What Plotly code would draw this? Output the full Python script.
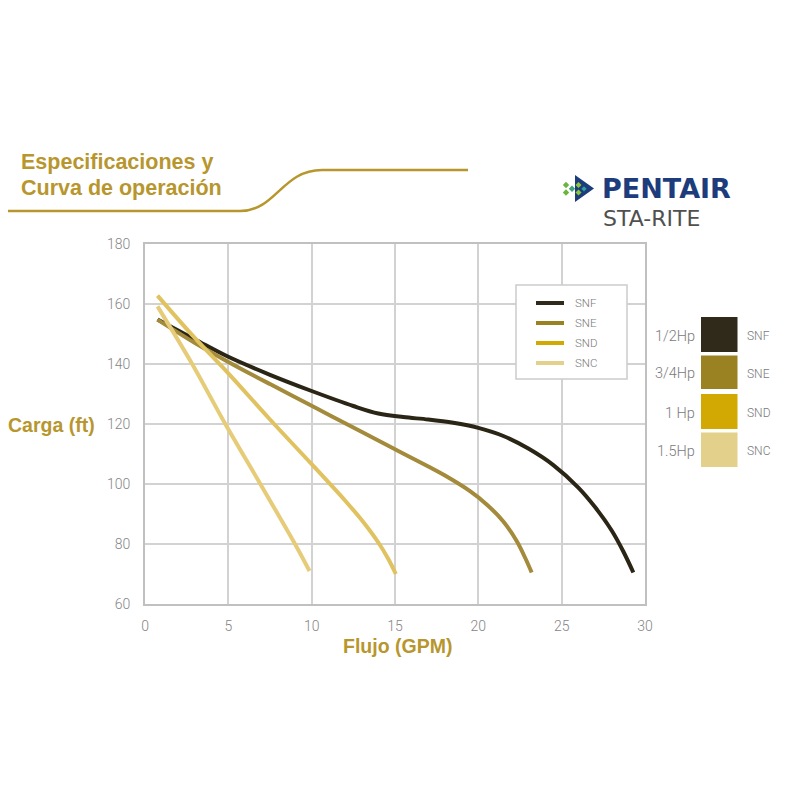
import plotly.graph_objects as go

# ---- data ----
flow_snf = [0.75, 3.0, 5.0, 7.5, 10.0, 12.5, 14.0, 15.5, 17.0, 18.5, 20.0, 21.5, 23.0, 24.5, 26.0, 27.0, 28.0, 28.7, 29.3]
head_snf = [154.8, 148.2, 142.4, 136.4, 131.0, 126.0, 123.5, 122.3, 121.5, 120.4, 118.7, 116.0, 111.8, 106.3, 98.8, 92.3, 84.5, 77.5, 70.5]

flow_sne = [0.75, 3.0, 5.0, 7.5, 10.0, 12.5, 15.0, 17.0, 18.0, 19.5, 20.5, 21.5, 22.3, 22.8, 23.2]
head_sne = [154.8, 147.0, 140.7, 133.3, 126.1, 118.8, 111.6, 105.8, 102.8, 97.6, 93.2, 87.5, 81.0, 75.5, 70.5]

flow_snd = [0.75, 3.0, 5.0, 7.5, 10.0, 12.0, 13.0, 14.0, 14.6, 15.05]
head_snd = [162.8, 148.6, 136.9, 121.5, 106.6, 94.5, 88.0, 80.5, 75.0, 70.0]

flow_snc = [0.75, 2.83, 4.82, 6.92, 9.0, 9.87]
head_snc = [159.2, 140.0, 120.0, 100.0, 80.0, 71.0]

series_names = ["SNF", "SNE", "SND", "SNC"]
hp_labels = ["1/2Hp", "3/4Hp", "1 Hp", "1.5Hp"]
curve_colors = ["#2A2515", "#A38B3B", "#E0C260", "#E6CC78"]
swatch_colors = ["#2F2A1A", "#9A8121", "#D2A802", "#E3D08B"]

x_ticks = [0, 5, 10, 15, 20, 25, 30]
y_ticks = [60, 80, 100, 120, 140, 160, 180]

title_lines = ["Especificaciones y", "Curva de operación"]
x_title = "Flujo (GPM)"
y_title = "Carga (ft)"

GOLD = "#B8962E"
TICK_GRAY = "#858585"

# ---- layout geometry ----
# page pixel positions are measured on the screenshot; the figure sits 8px in (body margin)
OFF = 8
W, H = 800, 800
PLOT_X0, PLOT_X1, PLOT_Y0, PLOT_Y1 = 145, 645, 244, 604   # page pixels
L = PLOT_X0 - OFF
T = PLOT_Y0 - OFF
R = W - (PLOT_X1 - OFF)
B = H - (PLOT_Y1 - OFF)
PW, PH = PLOT_X1 - PLOT_X0, PLOT_Y1 - PLOT_Y0


def px(x):
    return (x - PLOT_X0) / PW


def py(y):
    return (PLOT_Y1 - y) / PH


fig = go.Figure()
for name, xs, ys, col in zip(series_names,
                             [flow_snf, flow_sne, flow_snd, flow_snc],
                             [head_snf, head_sne, head_snd, head_snc],
                             curve_colors):
    fig.add_trace(go.Scatter(x=xs, y=ys, mode="lines", name=name,
                             line=dict(color=col, width=4, shape="spline", smoothing=1.0),
                             showlegend=False, hoverinfo="x+y+name"))

axis_common = dict(showgrid=True, gridcolor="#d2d2d2", gridwidth=1.5,
                   showline=True, linecolor="#c0c0c0", linewidth=2, mirror=True,
                   zeroline=False, ticks="", fixedrange=True,
                   tickfont=dict(family="Roboto, Liberation Sans, sans-serif", size=14,
                                 color=TICK_GRAY, weight=300))

fig.update_xaxes(range=[0, 30], tickvals=x_ticks, ticktext=[str(v) for v in x_ticks],
                 ticklabelstandoff=8, **axis_common)
fig.update_yaxes(range=[60, 180], tickvals=y_ticks, ticktext=[str(v) for v in y_ticks],
                 ticklabelstandoff=10, **axis_common)

shapes = []
annotations = []

# decorative title line
path = (f"M {px(OFF)},{py(211)} L {px(240)},{py(211)} "
        f"C {px(276)},{py(211)} {px(282)},{py(170)} {px(322)},{py(170)} L {px(468)},{py(170)}")
shapes.append(dict(type="path", xref="paper", yref="paper", path=path,
                   line=dict(color=GOLD, width=2.5), layer="above"))

# title text
for i, t in enumerate(title_lines):
    annotations.append(dict(text=t, xref="paper", yref="paper", x=px(19), y=py(162 + 26 * i),
                            xanchor="left", yanchor="middle", showarrow=False,
                            font=dict(family="Liberation Sans, Arial, sans-serif", size=21.5,
                                      color=GOLD, weight="bold")))

# axis titles
annotations.append(dict(text=y_title, xref="paper", yref="paper", x=px(97), y=py(425),
                        xanchor="right", yanchor="middle", showarrow=False,
                        font=dict(family="Liberation Sans, Arial, sans-serif", size=19.5,
                                  color=GOLD, weight="bold")))
annotations.append(dict(text=x_title, xref="paper", yref="paper", x=px(397), y=py(646),
                        xanchor="center", yanchor="middle", showarrow=False,
                        font=dict(family="Liberation Sans, Arial, sans-serif", size=19.5,
                                  color=GOLD, weight="bold")))

# logo
NAVY = "#1D3C7C"
shapes.append(dict(type="path", xref="paper", yref="paper",
                   path=f"M {px(575)},{py(175)} L {px(594)},{py(188.5)} L {px(575)},{py(202)} Z",
                   fillcolor=NAVY, line=dict(width=0)))


def diamond(cx, cy, r, col):
    return dict(type="path", xref="paper", yref="paper",
                path=f"M {px(cx - r)},{py(cy)} L {px(cx)},{py(cy - r)} L {px(cx + r)},{py(cy)} L {px(cx)},{py(cy + r)} Z",
                fillcolor=col, line=dict(width=0))


shapes.append(diamond(566, 185, 3.2, "#6DB33F"))
shapes.append(diamond(566, 192.5, 3.2, "#6DB33F"))
shapes.append(diamond(572, 188.8, 3.2, "#3FA37A"))
shapes.append(diamond(578.5, 185, 3.0, "#8CC63F"))
shapes.append(diamond(578.5, 192.5, 3.0, "#8CC63F"))
shapes.append(diamond(584, 188.8, 2.6, "#2BA39A"))

annotations.append(dict(text="PENTAIR", xref="paper", yref="paper", x=px(600), y=py(188),
                        xanchor="left", yanchor="middle", showarrow=False,
                        font=dict(family="DejaVu Sans, sans-serif", size=27, color=NAVY,
                                  weight="bold")))
annotations.append(dict(text="STA-RITE", xref="paper", yref="paper", x=px(601), y=py(218),
                        xanchor="left", yanchor="middle", showarrow=False,
                        font=dict(family="DejaVu Sans, sans-serif", size=22, color="#505050")))

# in-plot legend box
shapes.append(dict(type="rect", xref="paper", yref="paper",
                   x0=px(516), x1=px(627), y0=py(285), y1=py(379),
                   fillcolor="white", line=dict(color="#cbcbcb", width=1.5), layer="above"))
for i, (name, col) in enumerate(zip(series_names, swatch_colors)):
    yy = 303 + 20 * i
    shapes.append(dict(type="line", xref="paper", yref="paper",
                       x0=px(536), x1=px(564), y0=py(yy), y1=py(yy),
                       line=dict(color=col, width=4), layer="above"))
    annotations.append(dict(text=name, xref="paper", yref="paper", x=px(573), y=py(yy),
                            xanchor="left", yanchor="middle", showarrow=False,
                            font=dict(family="Roboto, Liberation Sans, sans-serif", size=11.5,
                                      color="#7a7a7a", weight=300)))

# horsepower swatches on the right
box_tops = [317, 355.5, 394, 432.5]
box_bottoms = [352, 389, 429, 467]
for name, hp, col, t0, b0 in zip(series_names, hp_labels, swatch_colors, box_tops, box_bottoms):
    shapes.append(dict(type="rect", xref="paper", yref="paper",
                       x0=px(701), x1=px(737.5), y0=py(t0), y1=py(b0),
                       fillcolor=col, line=dict(width=0)))
    cy = (t0 + b0) / 2 + 1.5
    annotations.append(dict(text=hp, xref="paper", yref="paper", x=px(697), y=py(cy),
                            xanchor="right", yanchor="middle", showarrow=False,
                            font=dict(family="Roboto, Liberation Sans, sans-serif", size=14.5,
                                      color="#7a7a7a", weight=300)))
    annotations.append(dict(text=name, xref="paper", yref="paper", x=px(745), y=py(cy),
                            xanchor="left", yanchor="middle", showarrow=False,
                            font=dict(family="Roboto, Liberation Sans, sans-serif", size=12,
                                      color="#7a7a7a", weight=300)))

fig.update_layout(width=W, height=H, margin=dict(l=L, r=R, t=T, b=B),
                  paper_bgcolor="white", plot_bgcolor="white",
                  shapes=shapes, annotations=annotations, showlegend=False)

fig.write_html("out.html")
